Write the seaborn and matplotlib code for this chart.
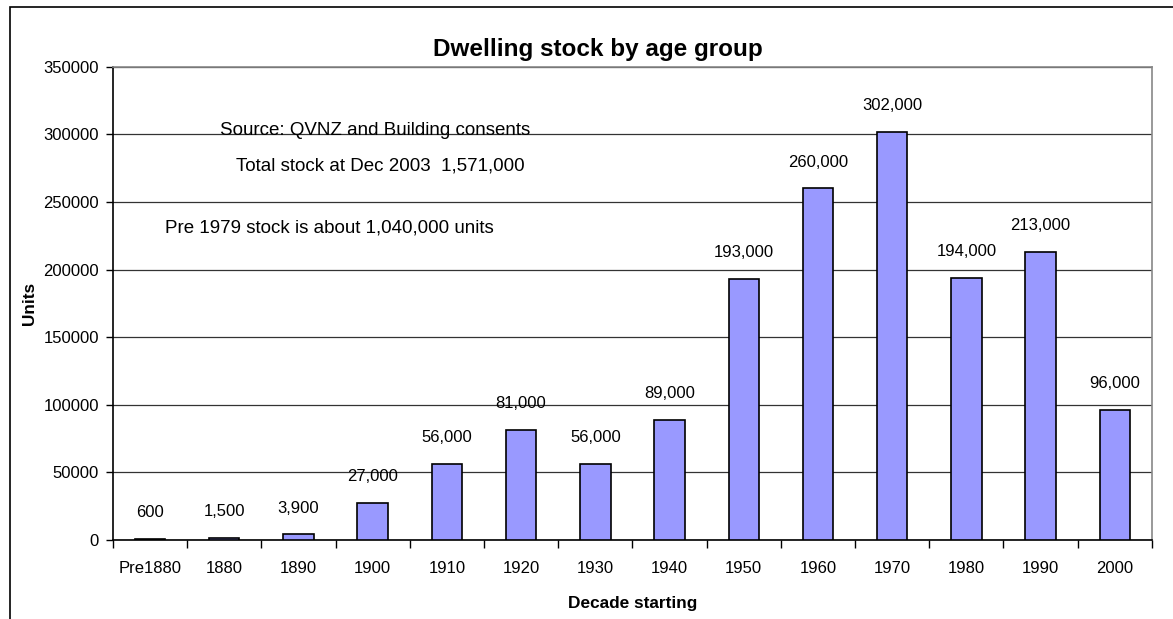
import matplotlib
matplotlib.use("Agg")
import matplotlib.pyplot as plt
import seaborn as sns
import pandas as pd
from matplotlib.patches import Rectangle

decades = ["Pre1880", "1880", "1890", "1900", "1910", "1920", "1930",
           "1940", "1950", "1960", "1970", "1980", "1990", "2000"]
units = [600, 1500, 3900, 27000, 56000, 81000, 56000,
         89000, 193000, 260000, 302000, 194000, 213000, 96000]
value_labels = ["600", "1,500", "3,900", "27,000", "56,000", "81,000", "56,000",
                "89,000", "193,000", "260,000", "302,000", "194,000", "213,000", "96,000"]

df = pd.DataFrame({"Decade": decades, "Units": units})

sns.set_style("white")
plt.rcParams['font.family'] = ['Liberation Sans', 'DejaVu Sans']
plt.rcParams['text.color'] = 'black'
plt.rcParams['xtick.color'] = 'black'
plt.rcParams['ytick.color'] = 'black'
plt.rcParams['axes.labelcolor'] = 'black'

fig = plt.figure(figsize=(11.73, 6.19), dpi=100)
ax = fig.add_axes([0.0963, 0.128, 0.8857, 0.764])

sns.barplot(data=df, x="Decade", y="Units", color="#9999FF", saturation=1,
            edgecolor="black", linewidth=1.2, width=0.41, ax=ax, zorder=3)

for i, (v, lab) in enumerate(zip(units, value_labels)):
    ax.annotate(lab, (i, v), xytext=(0, 19), textcoords="offset points",
                ha="center", va="center", fontsize=12)

ax.set_ylim(0, 350000)
ax.set_xlim(-0.5, len(decades) - 0.5)
ax.set_yticks(range(0, 350001, 50000))
ax.set_yticklabels([str(t) for t in range(0, 350001, 50000)], fontsize=12)
ax.tick_params(axis="x", labelsize=12, length=0, pad=15)
ax.tick_params(axis="y", length=5, width=1, direction="out", left=True, pad=5)
ax.set_xticks([i + 0.5 for i in range(-1, len(decades))], minor=True)
ax.tick_params(axis="x", which="minor", length=6, width=1, direction="out", bottom=True)
ax.grid(axis="y", color="#333333", linewidth=0.9, zorder=0)
ax.set_axisbelow(True)

for s in ["left", "bottom"]:
    ax.spines[s].set_color("black")
    ax.spines[s].set_linewidth(1.2)
for s in ["top", "right"]:
    ax.spines[s].set_color("#888888")
    ax.spines[s].set_linewidth(1.2)

ax.set_xlabel("Decade starting", fontsize=12.4, fontweight="bold", labelpad=15)
ax.set_ylabel("Units", fontsize=12.4, fontweight="bold", labelpad=5)
ax.set_title("Dwelling stock by age group", fontsize=17.5, fontweight="bold",
             x=0.467, pad=8)

ax.text(0.252, 0.865, "Source: QVNZ and Building consents", transform=ax.transAxes,
        ha="center", va="center", fontsize=13.5)
ax.text(0.257, 0.79, "Total stock at Dec 2003  1,571,000", transform=ax.transAxes,
        ha="center", va="center", fontsize=13.5)
ax.text(0.05, 0.66, "Pre 1979 stock is about 1,040,000 units", transform=ax.transAxes,
        ha="left", va="center", fontsize=13.5)

fig.patches.append(Rectangle((10 / 1173, -0.1), 1.2, 1 - 7 / 619 + 0.1,
                             transform=fig.transFigure, fill=False,
                             edgecolor="black", linewidth=1.2))

fig.savefig("out.png", dpi=100)
